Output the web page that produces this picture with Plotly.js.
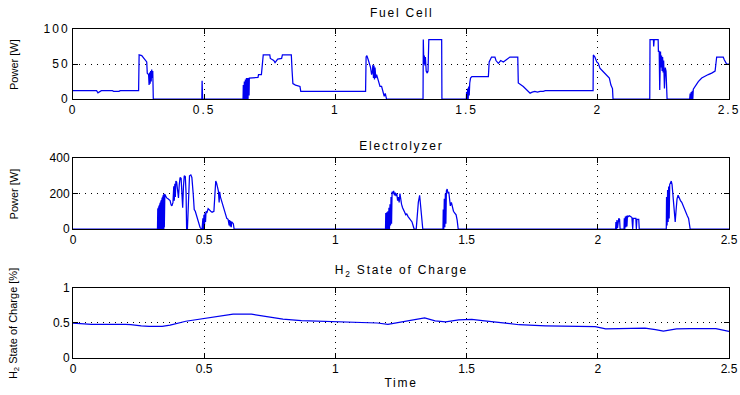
<!DOCTYPE html>
<html>
<head>
<meta charset="utf-8">
<script src="https://cdn.plot.ly/plotly-3.0.1.min.js"></script>
<style>
  html, body { margin:0; padding:0; background:#fff; }
  #chart { width:740px; height:395px; }
  .xtick text, .ytick text { letter-spacing: 2px; }
</style>
</head>
<body>
<div id="chart"></div>
<script>
// ---------- data ----------
const xTickVals = [0, 0.5, 1, 1.5, 2, 2.5];
const xTickText = ["0", "0.5", "1", "1.5", "2", "2.5"];
const fcTickVals = [0, 50, 100];
const elTickVals = [0, 200, 400];
const socTickVals = [0, 0.5, 1];
const socTickText = ["0", "0.5", "1"];
const panelTitles = ["Fuel Cell", "Electrolyzer", "H<sub>2</sub> State of Charge"];
const yTitles = ["Power [W]", "Power [W]", "H<sub>2</sub> State of Charge [%]"];
const xTitle = "Time";

// Fuel cell power [W]
const fcTime = [0,0.09,0.095,0.1,0.108,0.15,0.155,0.175,0.18,0.25,0.252,0.262,0.27,0.278,0.281,0.283,0.288,0.29,0.292,0.294,0.296,0.298,0.3,0.302,0.304,0.306,
  0.491,0.492,0.494,0.648,0.649,0.651,0.653,0.655,0.657,0.659,0.661,0.663,0.665,0.667,0.669,0.671,0.672,0.705,0.707,0.718,0.72,0.725,0.75,0.752,0.765,0.77,0.78,0.795,0.798,0.832,0.835,0.838,0.848,0.865,0.868,
  1.115,1.117,1.12,1.126,1.13,1.134,1.138,1.141,1.143,1.145,1.147,1.149,1.151,1.154,1.157,1.16,1.164,1.17,1.176,1.18,1.186,1.19,1.195,
  1.334,1.335,1.337,1.339,1.341,1.343,1.346,1.35,1.353,1.356,1.405,1.406,
  1.499,1.5,1.502,1.504,1.506,1.508,1.51,1.512,1.515,1.52,1.583,1.586,1.595,1.608,1.612,1.621,1.63,1.64,1.653,1.665,1.695,1.697,1.716,1.729,1.742,1.75,1.76,1.77,1.78,1.792,1.8,
  1.982,1.983,1.989,1.996,2.002,2.008,2.021,2.027,2.034,2.044,2.05,2.056,2.058,
  2.198,2.199,2.212,2.213,2.215,2.23,2.231,2.234,2.236,2.239,2.241,2.243,2.245,2.247,2.249,2.251,2.254,2.257,2.26,2.264,
  2.35,2.352,2.354,2.356,2.358,2.36,2.362,2.364,2.37,2.383,2.396,2.408,2.421,2.434,2.447,2.453,2.478,2.482,2.491,2.5];
const fcPower = [12,12,9,10,12,12,11,11,12,12,63,62,58,55,53,37,35,20,38,22,40,25,42,30,40,0,
  0,26,0,0,20,0,25,0,28,0,30,0,30,0,30,5,30,31,35,35,44,63,63,58,55,52,57,58,63,63,40,22,20,18,11,
  11,60,62,55,51,45,35,40,49,30,48,28,45,30,35,30,27,18,18,11,4,8,0,
  0,85,50,62,48,60,40,37,40,85,85,0,
  0,10,0,15,0,18,5,23,30,32,32,53,60,60,55,51,55,53,56,60,60,23,18,13,8.5,10,11,10,11,11,12,
  12,63,60,53,51,44,39,37,34,30,20,15,0,
  0,85,85,75,85,85,68,68,13,68,45,62,40,60,38,55,15,45,40,0,
  0,8,0,10,0,12,0,14,18,25,30,33,35,37,40,60,60,56,50,50];

// Electrolyzer power [W]
const elTime = [0,0.322,0.323,0.324,0.325,0.326,0.327,0.328,0.329,0.330,0.331,0.332,0.333,0.334,0.335,0.336,0.337,0.338,0.339,0.340,0.341,0.342,0.343,0.344,0.345,0.346,0.347,0.348,0.35,0.353,0.357,0.362,0.367,0.37,0.374,0.377,0.381,0.384,0.386,0.388,0.39,0.392,0.395,0.399,0.402,0.405,0.408,0.412,0.415,0.418,0.421,0.424,0.428,0.431,0.433,0.436,0.44,0.444,0.449,0.453,0.458,0.462,0.466,0.47,0.475,0.479,0.484,0.489,0.492,0.495,0.497,0.499,0.501,0.503,0.505,0.507,0.51,0.515,0.52,0.525,0.53,0.537,0.541,0.544,0.547,0.551,0.554,0.557,0.559,0.562,0.566,0.571,0.576,0.581,0.586,0.591,0.595,0.597,0.599,0.601,0.603,0.605,0.608,0.611,0.614,
  1.191,1.192,1.194,1.196,1.198,1.2,1.202,1.204,1.206,1.208,1.21,1.212,1.214,1.216,1.219,1.222,1.225,1.228,1.231,1.234,1.237,1.24,1.243,1.246,1.249,1.252,1.256,1.26,1.264,1.268,1.272,1.277,1.282,1.287,1.292,1.296,1.3,1.308,1.312,1.316,1.321,1.325,1.329,1.333,
  1.41,1.411,1.413,1.415,1.417,1.419,1.421,1.423,1.426,1.429,1.432,1.435,1.438,1.442,1.446,1.45,1.455,1.46,1.464,1.468,
  2.068,2.069,2.071,2.073,2.075,2.077,2.08,2.083,2.085,2.1,2.101,2.103,2.105,2.107,2.109,2.111,2.113,2.116,2.12,2.125,2.13,2.133,2.135,2.145,2.147,2.149,2.156,2.158,
  2.261,2.262,2.264,2.266,2.268,2.27,2.272,2.274,2.277,2.28,2.283,2.286,2.289,2.292,2.295,2.298,2.302,2.306,2.31,2.315,2.32,2.325,2.33,2.336,2.341,2.346,2.35,2.352,2.5];
const elPower = [0,0,110,0,118,0,125,0,132,0,140,0,148,0,155,0,162,0,170,0,178,0,185,0,192,0,198,10,195,185,175,170,165,160,135,130,150,240,160,255,180,270,265,190,175,250,290,285,150,120,240,300,295,200,0,0,150,300,305,290,200,110,100,80,60,40,10,0,0,60,0,80,20,90,40,100,90,115,105,100,95,100,200,270,260,240,215,150,210,180,160,130,100,80,60,55,20,50,15,45,10,40,35,30,0,
  0,90,0,95,0,100,0,120,0,140,20,180,30,210,200,215,190,205,185,200,160,180,150,200,150,140,120,110,95,80,85,70,60,45,40,20,0,0,80,150,190,130,60,0,
  0,110,0,170,10,200,30,215,225,200,210,160,130,150,120,100,90,80,50,0,
  0,40,0,50,5,55,60,55,0,0,60,0,70,10,75,15,75,70,75,70,65,0,60,60,0,55,55,0,
  0,180,20,220,40,240,60,250,265,270,250,200,120,60,40,100,170,190,175,160,150,130,110,90,75,60,30,0,0];

// H2 state of charge
const socTime = [0,0.04,0.07,0.2,0.22,0.26,0.29,0.34,0.37,0.43,0.5,0.56,0.61,0.68,0.74,0.8,0.87,1.0,1.12,1.16,1.2,1.26,1.3,1.34,1.38,1.42,1.47,1.52,1.56,1.62,1.7,1.8,1.9,1.99,2.03,2.12,2.18,2.22,2.25,2.3,2.35,2.45,2.5];
const socValue = [0.5,0.495,0.482,0.48,0.478,0.46,0.452,0.452,0.47,0.525,0.56,0.6,0.625,0.625,0.59,0.555,0.535,0.522,0.512,0.5,0.482,0.52,0.555,0.572,0.53,0.515,0.545,0.553,0.535,0.51,0.475,0.46,0.45,0.447,0.415,0.418,0.425,0.405,0.385,0.415,0.42,0.418,0.38];

// ---------- chart ----------
const FONT = '"Liberation Sans", Arial, Helvetica, sans-serif';
const lineStyle = {color: 'rgb(0,0,240)', width: 1.25};
const txtFont = {family: FONT, size: 12, color: 'black'};

const traces = [
  {x: fcTime, y: fcPower, type: 'scatter', mode: 'lines', line: lineStyle, xaxis: 'x', yaxis: 'y', hoverinfo: 'skip'},
  {x: elTime, y: elPower, type: 'scatter', mode: 'lines', line: lineStyle, xaxis: 'x2', yaxis: 'y2', hoverinfo: 'skip'},
  {x: socTime, y: socValue, type: 'scatter', mode: 'lines', line: lineStyle, xaxis: 'x3', yaxis: 'y3', hoverinfo: 'skip'}
];

function xAx(anchor) {
  return {
    anchor: anchor, range: [0, 2.5], tickmode: 'array', tickvals: xTickVals, ticktext: xTickText,
    showline: true, mirror: 'ticks', linecolor: 'black', linewidth: 1,
    ticks: 'inside', ticklen: 5, tickcolor: 'black', ticklabeloverflow: 'allow',
    showgrid: true, gridcolor: 'black', griddash: '1px,5px', gridwidth: 1,
    zeroline: false, tickfont: txtFont, fixedrange: true
  };
}
function yAx(anchor, domain, range, tv, tt) {
  return {
    anchor: anchor, domain: domain, range: range, tickmode: 'array', tickvals: tv, ticktext: tt,
    showline: true, mirror: 'ticks', linecolor: 'black', linewidth: 1,
    ticks: 'inside', ticklen: 5, tickcolor: 'black', ticklabeloverflow: 'allow',
    showgrid: true, gridcolor: 'black', griddash: '1px,5px', gridwidth: 1,
    zeroline: false, tickfont: txtFont, fixedrange: true
  };
}
function hTitle(text, y) {
  return {text: text, xref: 'paper', yref: 'paper', x: 0.5, y: y, xanchor: 'center', yanchor: 'middle',
          showarrow: false, font: txtFont};
}
function vTitle(text, y) {
  return {text: text, xref: 'paper', yref: 'paper', x: -0.09, y: y, xanchor: 'center', yanchor: 'middle',
          textangle: -90, showarrow: false, font: {family: FONT, size: 11, color: 'black'}};
}

const layout = {
  width: 740, height: 395,
  margin: {l: 73, r: 11, t: 29, b: 37},
  paper_bgcolor: 'white', plot_bgcolor: 'white',
  showlegend: false,
  font: {family: FONT, size: 12, color: 'black'},
  xaxis: xAx('y'),
  xaxis2: xAx('y2'),
  xaxis3: xAx('y3'),
  yaxis: yAx('x', [0.787, 1], [0, 100], fcTickVals, fcTickVals.map(String)),
  yaxis2: yAx('x2', [0.392, 0.608], [0, 400], elTickVals, elTickVals.map(String)),
  yaxis3: yAx('x3', [0, 0.2128], [0, 1], socTickVals, socTickText),
  annotations: [
    hTitle(panelTitles[0], 1.0486),
    hTitle(panelTitles[1], 0.644),
    hTitle(panelTitles[2], 0.2644),
    hTitle(xTitle, -0.076),
    vTitle(yTitles[0], 0.8935),
    vTitle(yTitles[1], 0.50),
    vTitle(yTitles[2], 0.106)
  ]
};

Plotly.newPlot('chart', traces, layout, {staticPlot: true, displayModeBar: false}).then(function () {
  // wide lettering of the horizontal titles, as in the reference
  document.querySelectorAll('.annotation-text').forEach(function (t, i) {
    if (i < 4) t.style.letterSpacing = '1.8px';
  });
});
</script>
</body>
</html>
